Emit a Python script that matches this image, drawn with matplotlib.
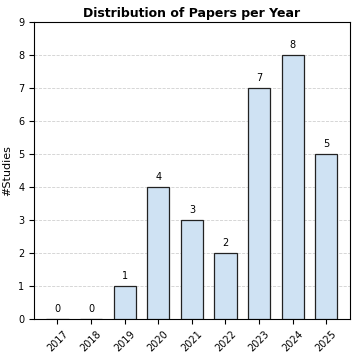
import numpy as np
import matplotlib
matplotlib.use('Agg')
import matplotlib.pyplot as plt

# ===================== DADOS =====================
years = ['2017', '2018', '2019', '2020', '2021', '2022', '2023', '2024', '2025']
counts = [0, 0, 1, 4, 3, 2, 7, 8, 5]

# ===================== FIGURA =====================
fig = plt.figure(figsize=(3.57, 3.56), dpi=100)
ax = fig.add_axes([0.095, 0.104, 0.885, 0.834])

x = np.arange(len(years))
bars = ax.bar(x, counts, width=0.66, color='#cfe2f3', edgecolor='#222222', linewidth=0.9, zorder=3)

for xi, c in zip(x, counts):
    ax.text(xi, c + 0.15, str(c), ha='center', va='bottom', fontsize=7)

ax.set_xticks(x)
ax.set_xticklabels(years, rotation=45, fontsize=7)
ax.set_yticks(range(0, 10))
ax.tick_params(axis='y', labelsize=7)
ax.set_ylim(0, 9)
ax.set_xlim(-0.7, len(years) - 0.3)
ax.set_ylabel('#Studies', fontsize=8)
ax.set_title('Distribution of Papers per Year', fontsize=9, fontweight='bold', pad=4)
ax.grid(True, axis='y', linestyle='--', linewidth=0.6, alpha=0.6, zorder=0)

fig.savefig('out.png', dpi=100)
